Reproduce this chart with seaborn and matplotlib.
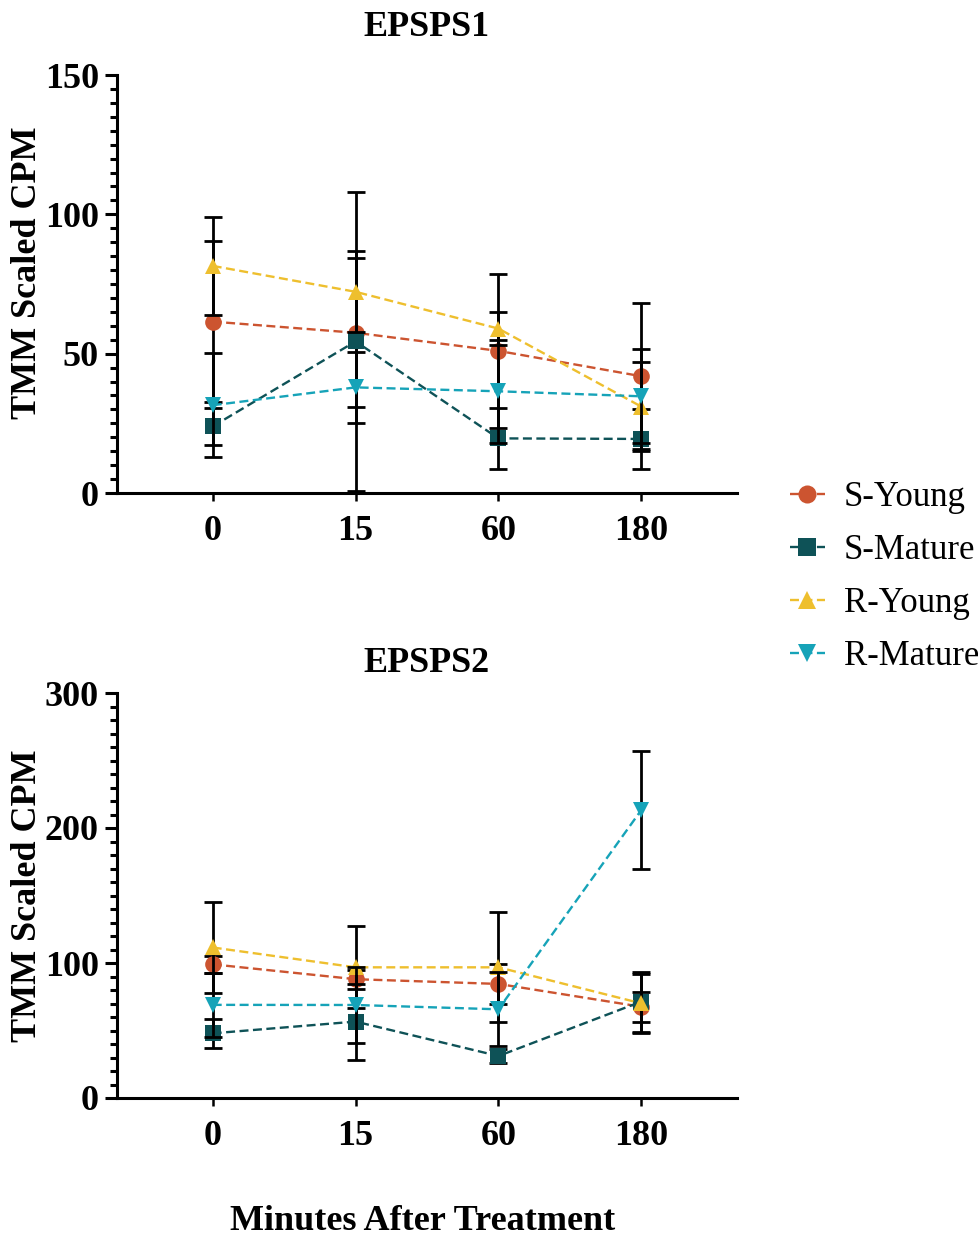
import matplotlib
matplotlib.use("Agg")
import matplotlib.pyplot as plt
import numpy as np
import pandas as pd
import seaborn as sns
from matplotlib.ticker import MultipleLocator
from matplotlib.lines import Line2D

# Sampling times (minutes after treatment) and plant groups
times = ["0", "15", "60", "180"]
groups = ["S-Young", "S-Mature", "R-Young", "R-Mature"]
colors = ["#CC5430", "#0E5257", "#EEBF2E", "#16A3B8"]
markers = ["o", "s", "^", "v"]

# EPSPS1 expression: mean and SD of TMM scaled CPM
epsps1_mean = {
    "S-Young":  [61.5, 57.5, 51.0, 41.9],
    "S-Mature": [23.9, 54.4, 19.6, 19.4],
    "R-Young":  [81.5, 72.2, 59.0, 31.0],
    "R-Mature": [31.5, 37.9, 36.5, 34.7],
}
epsps1_sd = {
    "S-Young":  [29.0, 26.7, 27.6, 26.2],
    "S-Mature": [6.6, 53.6, 11.0, 10.7],
    "R-Young":  [17.6, 14.6, 5.8, 15.9],
    "R-Mature": [18.6, 12.8, 18.4, 16.9],
}

# EPSPS2 expression: mean and SD of TMM scaled CPM
epsps2_mean = {
    "S-Young":  [99.0, 88.0, 84.5, 67.6],
    "S-Mature": [47.9, 56.6, 31.1, 71.4],
    "R-Young":  [111.5, 96.8, 96.8, 70.1],
    "R-Mature": [69.0, 68.9, 65.7, 213.3],
}
epsps2_sd = {
    "S-Young":  [6.5, 7.0, 15.0, 11.1],
    "S-Mature": [10.7, 28.2, 5.5, 22.2],
    "R-Young":  [33.7, 30.5, 40.8, 22.0],
    "R-Mature": [23.5, 27.9, 27.5, 44.0],
}

sns.set_style("ticks")
plt.rcParams["font.family"] = ["Liberation Serif", "DejaVu Serif"]
plt.rcParams.update({
    "axes.linewidth": 2.2,
    "axes.edgecolor": "black",
    "text.color": "black",
    "xtick.color": "black",
    "ytick.color": "black",
    "xtick.labelcolor": "black",
    "ytick.labelcolor": "black",
})

W, H = 979, 1241
fig = plt.figure(figsize=(W / 100, H / 100), dpi=100)

def frac_axes(left, top, right, bottom):
    return fig.add_axes([left / W, 1 - bottom / H, (right - left) / W, (bottom - top) / H])

ax1 = frac_axes(117, 75, 737, 493)
ax2 = frac_axes(117, 693, 737, 1098)

dash = (0, (3.8, 1.9))
FS = 26

def draw_panel(ax, means, sds, ymax, major, minor):
    pos = np.arange(len(times))
    for i, (g, c, m) in enumerate(zip(groups, colors, markers)):
        df = pd.DataFrame({"pos": pos, "value": means[g]})
        ax.errorbar(pos, means[g], yerr=sds[g], fmt="none", ecolor="black",
                    elinewidth=2.0, capsize=6.2, capthick=2.0, zorder=3 + 2 * i)
        sns.lineplot(data=df, x="pos", y="value", ax=ax, color=c, marker=m,
                     markersize=12, markeredgewidth=0, linestyle=dash,
                     linewidth=1.7, zorder=4 + 2 * i, legend=False)
    ax.set_xlim(-0.67, 3.67)
    ax.set_ylim(0, ymax)
    ax.set_xticks(pos)
    ax.set_xticklabels(times)
    ax.yaxis.set_major_locator(MultipleLocator(major))
    ax.yaxis.set_minor_locator(MultipleLocator(minor))
    ax.set_xlabel("")
    ax.set_ylabel("")
    sns.despine(ax=ax)
    ax.tick_params(axis="y", which="major", length=9, width=2.2, pad=4,
                   labelsize=FS)
    ax.tick_params(axis="y", which="minor", length=5, width=2.2)
    ax.tick_params(axis="x", which="major", length=6, width=1.8, pad=10,
                   labelsize=FS)
    for lab in ax.get_xticklabels() + ax.get_yticklabels():
        lab.set_fontweight("bold")

draw_panel(ax1, epsps1_mean, epsps1_sd, 150, 50, 5)
draw_panel(ax2, epsps2_mean, epsps2_sd, 300, 100, 10)

# Panel titles, axis labels
fig.text(427 / W, 1 - 27 / H, "EPSPS1", ha="center", va="center",
         fontsize=FS, fontweight="bold")
fig.text(427 / W, 1 - 664 / H, "EPSPS2", ha="center", va="center",
         fontsize=FS, fontweight="bold")
fig.text(28 / W, 1 - 273 / H, "TMM Scaled CPM", ha="center", va="center",
         rotation=90, fontsize=FS, fontweight="bold")
fig.text(28 / W, 1 - 896 / H, "TMM Scaled CPM", ha="center", va="center",
         rotation=90, fontsize=FS, fontweight="bold")
fig.text(423 / W, 1 - 1222 / H, "Minutes After Treatment", ha="center",
         va="center", fontsize=FS, fontweight="bold")

# Legend
handles = [Line2D([0], [0], color=c, marker=m, markersize=13,
                  markeredgewidth=0, linestyle=dash, linewidth=1.7)
           for c, m in zip(colors, markers)]
fig.legend(handles, groups, loc="center left",
           bbox_to_anchor=(790 / W, 1 - 577 / H), frameon=False,
           fontsize=25, handlelength=1.0, handletextpad=0.55,
           labelspacing=0.58, borderpad=0, borderaxespad=0)

fig.savefig("out.png", dpi=100)
